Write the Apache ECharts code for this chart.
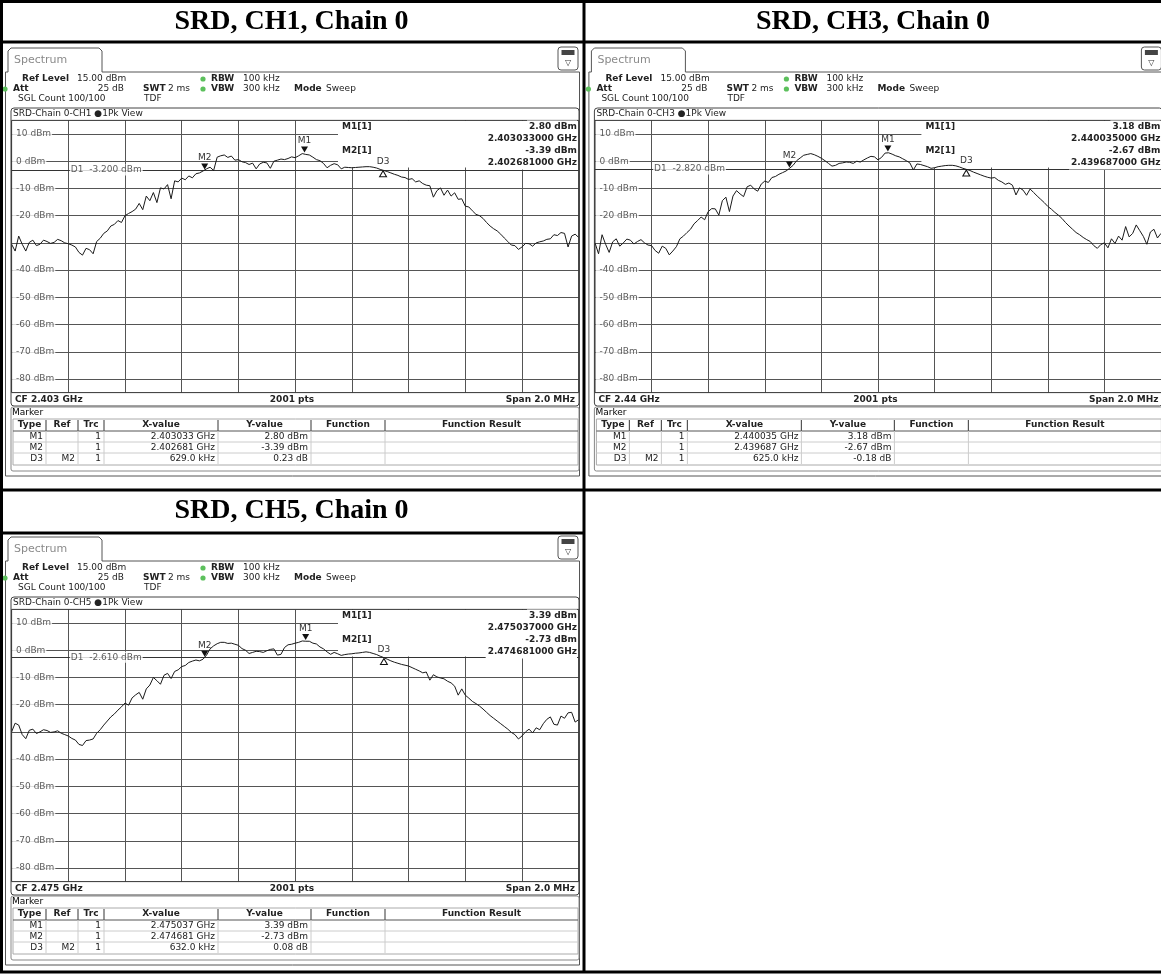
<!DOCTYPE html>
<html>
<head>
<meta charset="utf-8">
<title>SRD Chain 0 occupied bandwidth</title>
<script src="https://cdn.jsdelivr.net/npm/echarts@6/dist/echarts.min.js"></script>
<style>
  html, body { margin: 0; padding: 0; background: #fff; }
  #chart { width: 1161px; height: 976px; }
</style>
</head>
<body>
<div id="chart"></div>
<script>
// sweep positions, offset from centre frequency in kHz (span 2.0 MHz)
const OFFSET_KHZ = [
  -1000, -987.5, -975, -962.5, -950, -937.5, -925, -912.5,
  -900, -887.5, -875, -862.5, -850, -837.5, -825, -812.5,
  -800, -787.5, -775, -762.5, -750, -737.5, -725, -712.5,
  -700, -687.5, -675, -662.5, -650, -637.5, -625, -612.5,
  -600, -587.5, -575, -562.5, -550, -537.5, -525, -512.5,
  -500, -487.5, -475, -462.5, -450, -437.5, -425, -412.5,
  -400, -387.5, -375, -362.5, -350, -337.5, -325, -312.5,
  -300, -287.5, -275, -262.5, -250, -237.5, -225, -212.5,
  -200, -187.5, -175, -162.5, -150, -137.5, -125, -112.5,
  -100, -87.5, -75, -62.5, -50, -37.5, -25, -12.5,
  0, 12.5, 25, 37.5, 50, 62.5, 75, 87.5,
  100, 112.5, 125, 137.5, 150, 162.5, 175, 187.5,
  200, 212.5, 225, 237.5, 250, 262.5, 275, 287.5,
  300, 312.5, 325, 337.5, 350, 362.5, 375, 387.5,
  400, 412.5, 425, 437.5, 450, 462.5, 475, 487.5,
  500, 512.5, 525, 537.5, 550, 562.5, 575, 587.5,
  600, 612.5, 625, 637.5, 650, 662.5, 675, 687.5,
  700, 712.5, 725, 737.5, 750, 762.5, 775, 787.5,
  800, 812.5, 825, 837.5, 850, 862.5, 875, 887.5,
  900, 912.5, 925, 937.5, 950, 962.5, 975, 987.5,
  1000
];

// trace levels in dBm
const CH1_TRACE = [
  -30.5, -33, -27.5, -30.5, -33, -29.8, -29, -31,
  -30.5, -29, -29.5, -30.2, -29.8, -28.7, -29.2, -30,
  -30.3, -30.8, -31.5, -33.5, -34.5, -32, -32.5, -34,
  -29.5, -28.3, -26.5, -25.6, -23.8, -23.2, -21.8, -22.5,
  -20, -19.2, -18.5, -17.6, -15.5, -17.8, -12.8, -14.5,
  -11.5, -15.2, -9.8, -10.2, -8.6, -13.8, -7.2, -7.6,
  -6.2, -6.8, -5.4, -6.1, -4.6, -4.3, -3.6, -2.8,
  -2.2, -3.4, 1.5, 2.0, 2.3, 1.4, 1.9, 0.4,
  0.6, -0.2, -0.5, -1.2, -0.7, -2.8, -1.0, -0.4,
  -0.6, -2.6, 0, 0.4, 0.8, 0.6, 1.0, 1.6,
  1.3, 2.0, 2.8, 2.5, 2.3, 1.5, 0.6, 0.2,
  -0.8, -2.4, -1.5, -0.9, -1.3, -2.8, -2.2, -2.3,
  -2.4, -2.3, -2.2, -2.1, -2.0, -2.0, -2.2, -2.5,
  -3.0, -3.4, -3.8, -4.3, -4.8, -5.2, -5.8, -6.0,
  -6.7, -6.4, -7.6, -7.2, -8.2, -8.8, -9.0, -13.2,
  -10.8, -9.8, -12.5, -10.6, -12.8, -11.6, -14, -13.8,
  -16.5, -16.8, -18.2, -19.5, -20, -21, -22.5, -23.8,
  -24.8, -25.6, -26.8, -28.2, -29.5, -30.8, -31, -32.4,
  -31.5, -30.2, -30.3, -31.2, -30, -29.6, -29.3, -28.7,
  -28.5, -27, -27.3, -26.2, -26.5, -31.5, -27.5, -26.8,
  -28
];
const CH3_TRACE = [
  -30, -34, -27, -30.5, -33.5, -29.6, -28.5, -31.2,
  -30, -28.6, -29, -30.4, -29.5, -28.8, -30, -30.8,
  -31, -32.8, -33.8, -31.2, -32, -34.4, -33, -31.4,
  -28.5, -27.5, -26.2, -25, -23, -21.8, -20.5, -21.5,
  -18.5, -17.4, -17.5, -19.8, -14.5, -13.2, -18.5, -12.8,
  -10.8, -12, -13, -9.4, -8.8, -10.2, -11, -8.4,
  -7.3, -7.8, -6, -5.6, -4.8, -4.2, -3.6, -2.6,
  -1.5, 0.2, 1.2, 2.2, 2.5, 2.8, 2.4, 1.8,
  1.1, 0.2, -0.8, -1.8, -1.5, -0.8, -0.6, -0.3,
  -0.4, -0.8, 0, -0.3, 0.5, 1.2, 1.8, 1.6,
  0.5, 1.4, 3.0, 3.1, 2.6, 2.0, 1.6, 0.9,
  0.2, -0.6, -3.2, -1.0, -1.2, -1.6, -2, -2.6,
  -2.4, -2.0, -1.8, -1.6, -1.5, -1.5, -1.7, -2.1,
  -2.6, -3.0, -3.4, -4.0, -4.5, -5.0, -5.5, -5.9,
  -6.2, -6.0, -7, -7.6, -8.5, -8.0, -8.8, -12.4,
  -9.8, -10.6, -12.5, -10.2, -11.5, -12.8, -14, -15.2,
  -16.6, -17.6, -18.8, -19.8, -21, -22.5, -23.8, -25,
  -26.2, -27, -28, -28.8, -29.5, -31, -32, -30.6,
  -30, -31.8, -28.5, -30.2, -27.5, -29, -24, -27.8,
  -26.5, -23.4, -25.5, -27.6, -30.5, -26, -25, -28.2,
  -26.5
];
const CH5_TRACE = [
  -30, -26.8, -27.5, -31, -32.5, -29.4, -29, -30.6,
  -30, -29.2, -29.5, -30.2, -30, -29.6, -30.5, -31,
  -31.5, -32.4, -33, -34.6, -35, -33.2, -33, -32.6,
  -30.5, -29.2, -27.5, -26, -24.5, -23.4, -22, -20.8,
  -19.4, -20.2, -17.5, -16.4, -15.5, -18, -14.2, -12.8,
  -10, -11.2, -12.5, -9.2, -8.5, -10.4, -7.8, -7.2,
  -6, -5.6, -4.5, -4.0, -3.6, -3.9, -3.3, -1.8,
  0.5, 1.6, 2.4, 2.9, 2.9, 2.5, 2.6, 2.2,
  1.8, 0.6, 0, -1.2, -0.8, -0.4, -0.5, -0.8,
  -0.2, 0.3, 0.5, -1.8, -1.5, 1.0, 2.0, 2.2,
  2.6, 2.9, 3.4, 3.3, 3.3, 2.6, 2.3, 1.2,
  0.5, -0.6, -1.5, -0.8, -1.3, -1.9, -1.6, -1.4,
  -1.3, -1.1, -1.0, -0.8, -0.6, -0.8, -1.2, -1.6,
  -2.2, -2.7, -3.3, -3.9, -4.4, -4.8, -5.2, -5.5,
  -5.8, -6.4, -7, -7.6, -8.3, -8.0, -11, -9.0,
  -9.8, -10.2, -10.5, -11.4, -12, -13.2, -16.5, -14.2,
  -16.5, -17.6, -18.8, -19.6, -20.5, -21.6, -22.8, -24,
  -25, -26, -27, -28, -29, -30.2, -31, -32.6,
  -31.5, -30, -29, -30.4, -28.5, -29.2, -27, -25.4,
  -24.5, -27.2, -27.5, -24.2, -25, -23, -22.8, -26.4,
  -25.5
];

const GRID_DBM = [10, 0, -10, -20, -30, -40, -50, -60, -70, -80];
const GRID_LABEL_DBM = [10, 0, -10, -20, -40, -50, -60, -70, -80];
const GRID_KHZ = [-800, -600, -400, -200, 0, 200, 400, 600, 800];

const TITLES = ['SRD, CH1, Chain 0', 'SRD, CH3, Chain 0', 'SRD, CH5, Chain 0'];
const TRACE_NAMES = ['SRD-Chain 0-CH1', 'SRD-Chain 0-CH3', 'SRD-Chain 0-CH5'];
const CF_GHZ = [2.403, 2.44, 2.475];
const CF_LABELS = ['CF 2.403 GHz', 'CF 2.44 GHz', 'CF 2.475 GHz'];
const D1_DBM = [-3.2, -2.82, -2.61];
const M1_GHZ = [2.403033, 2.440035, 2.475037];
const M1_DBM = [2.80, 3.18, 3.39];
const M2_GHZ = [2.402681, 2.439687, 2.474681];
const M2_DBM = [-3.39, -2.67, -2.73];
const D3_KHZ = [629.0, 625.0, 632.0];
const D3_DB = [0.23, -0.18, 0.08];
const TRACES = [CH1_TRACE, CH3_TRACE, CH5_TRACE];

// panel origins on the page (CH1, CH3, CH5)
const ORIGINS = [[0, 0], [583.4, 0], [0, 489]];

const FF = '"DejaVu Sans", Verdana, sans-serif';
const N9 = '9px ' + FF;
const B9 = 'bold 9px ' + FF;

function txt(x, y, text, style, z) {
  return {
    type: 'text', x: x, y: y, z: z || 10, silent: true,
    style: Object.assign({ text: text, fill: '#222', font: N9, textAlign: 'left', textVerticalAlign: 'middle' }, style || {})
  };
}
function line(x1, y1, x2, y2, color, w, z) {
  return { type: 'line', z: z || 9, silent: true, shape: { x1: x1, y1: y1, x2: x2, y2: y2 }, style: { stroke: color, lineWidth: w || 1 } };
}
function box(x, y, w, h, style, z, r) {
  return { type: 'rect', z: z || 9, silent: true, shape: { x: x, y: y, width: w, height: h, r: r || 0 }, style: style };
}
function dot(x, y) {
  return { type: 'circle', z: 10, silent: true, shape: { cx: x, cy: y, r: 2.6 }, style: { fill: '#5cc05c' } };
}

const graphics = [];
const grids = [], xAxes = [], yAxes = [], series = [];

ORIGINS.forEach(function (o, k) {
  const ox = o[0], oy = o[1];
  const g = function (el) {
    if (el.shape && el.type === 'line') {
      el.shape.x1 += ox; el.shape.x2 += ox; el.shape.y1 += oy; el.shape.y2 += oy;
    } else if (el.shape && el.type === 'rect') {
      el.shape.x += ox; el.shape.y += oy;
    } else if (el.shape && el.type === 'circle') {
      el.shape.cx += ox; el.shape.cy += oy;
    } else if (el.shape && el.shape.points) {
      el.shape.points = el.shape.points.map(function (p) { return [p[0] + ox, p[1] + oy]; });
    } else {
      el.x += ox; el.y += oy;
    }
    graphics.push(el);
  };

  // panel frame and "Spectrum" tab
  g({ type: 'polyline', z: 9, silent: true, shape: { points: [[102, 72], [579.5, 72], [579.5, 476], [5.5, 476], [5.5, 72], [8, 72]] }, style: { stroke: '#555', lineWidth: 1, fill: null } });
  g({ type: 'polyline', z: 9, silent: true, shape: { points: [[8, 72], [8, 51], [11, 48], [99, 48], [102, 51], [102, 72]] }, style: { stroke: '#555', lineWidth: 1, fill: null } });
  g(txt(14, 60, 'Spectrum', { fill: '#8a8a8a', font: '11px ' + FF }));
  g(box(558, 47, 20, 23, { stroke: '#555', fill: '#fff', lineWidth: 1 }, 9, 3));
  g(box(561.5, 50, 13, 5, { fill: '#444' }, 10));
  g(txt(568, 63, '\u25BD', { font: '8px ' + FF, textAlign: 'center', fill: '#333' }));

  // instrument settings
  g(txt(22, 79, 'Ref Level', { font: B9 }));
  g(txt(77, 79, '15.00 dBm'));
  g(dot(203, 79));
  g(txt(211, 79, 'RBW', { font: B9 }));
  g(txt(243, 79, '100 kHz'));
  g(dot(5, 89));
  g(txt(13, 89, 'Att', { font: B9 }));
  g(txt(124, 89, '25 dB', { textAlign: 'right' }));
  g(txt(143, 89, 'SWT', { font: B9 }));
  g(txt(168, 89, '2 ms'));
  g(dot(203, 89));
  g(txt(211, 89, 'VBW', { font: B9 }));
  g(txt(243, 89, '300 kHz'));
  g(txt(294, 89, 'Mode', { font: B9 }));
  g(txt(326, 89, 'Sweep'));
  g(txt(18, 99, 'SGL Count 100/100'));
  g(txt(144, 99, 'TDF'));

  // diagram frame, header and footer
  g(box(11, 108, 568, 298, { stroke: '#444', fill: null, lineWidth: 1 }, 9, 3));
  g(txt(13, 114, TRACE_NAMES[k] + ' \u25CF1Pk View'));
  g(box(11.6, 120.4, 567.1, 272.2, { stroke: '#333', fill: null, lineWidth: 1 }, 9));
  g(txt(15, 400, CF_LABELS[k], { font: B9 }));
  g(txt(292, 400, '2001 pts', { font: B9, textAlign: 'center' }));
  g(txt(575, 400, 'Span 2.0 MHz', { font: B9, textAlign: 'right' }));

  // marker readout in the top right of the diagram
  g(box(338, 121, 240.5, 46.5, { fill: '#fff' }, 2));
  const vbg = { font: B9, textAlign: 'right', backgroundColor: '#fff', padding: [1, 0, 3, 2] };
  g(txt(342, 127, 'M1[1]', { font: B9 }));
  g(txt(577, 127, M1_DBM[k].toFixed(2) + ' dBm', vbg));
  g(txt(577, 139, M1_GHZ[k].toFixed(9) + ' GHz', vbg));
  g(txt(342, 151, 'M2[1]', { font: B9 }));
  g(txt(577, 151, M2_DBM[k].toFixed(2) + ' dBm', vbg));
  g(txt(577, 163, M2_GHZ[k].toFixed(9) + ' GHz', vbg));

  // marker table
  g(box(11, 407, 568, 64, { stroke: '#888', fill: null, lineWidth: 1 }, 9, 2));
  g(txt(12, 413, 'Marker', { fill: '#000' }));
  const cols = [13, 46, 78, 104, 218, 311, 385, 578];
  const heads = ['Type', 'Ref', 'Trc', 'X-value', 'Y-value', 'Function', 'Function Result'];
  const rows = [
    ['M1', '', '1', M1_GHZ[k].toFixed(6) + ' GHz', M1_DBM[k].toFixed(2) + ' dBm', '', ''],
    ['M2', '', '1', M2_GHZ[k].toFixed(6) + ' GHz', M2_DBM[k].toFixed(2) + ' dBm', '', ''],
    ['D3', 'M2', '1', D3_KHZ[k].toFixed(1) + ' kHz', D3_DB[k].toFixed(2) + ' dB', '', '']
  ];
  const rowTop = [431, 442, 453];
  g(box(13, 419, 565, 46, { stroke: '#aaa', fill: null, lineWidth: 1 }, 9));
  g(line(13, 431, 578, 431, '#555', 1));
  rowTop.slice(1).forEach(function (y) { g(line(13, y, 578, y, '#ccc', 1)); });
  cols.slice(1, -1).forEach(function (x) {
    g(line(x, 420, x, 431, '#555', 1.2));
    g(line(x, 431, x, 464, '#ccc', 1));
  });
  heads.forEach(function (h, i) {
    g(txt((cols[i] + cols[i + 1]) / 2, 425, h, { font: B9, textAlign: 'center' }));
  });
  rows.forEach(function (r, j) {
    r.forEach(function (c, i) {
      if (c) g(txt(cols[i + 1] - 3, rowTop[j] + 6, c, { textAlign: 'right' }));
    });
  });

  // plot
  grids.push({ left: ox + 11.6, top: oy + 120.4, width: 567.1, height: 272.2, show: false });
  xAxes.push({ type: 'value', gridIndex: k, min: -1000, max: 1000, show: false });
  yAxes.push({ type: 'value', gridIndex: k, min: -85, max: 15, show: false });

  const base = { xAxisIndex: k, yAxisIndex: k, animation: false, silent: true };
  series.push(Object.assign({
    type: 'line', z: 1, data: [[-1000, -85]], showSymbol: false, lineStyle: { width: 0 },
    markLine: {
      z: 1, silent: true, symbol: 'none', animation: false, label: { show: false },
      lineStyle: { color: '#555', width: 1, type: 'solid' },
      data: GRID_DBM.map(function (v) { return { yAxis: v }; })
        .concat(GRID_KHZ.map(function (v) { return { xAxis: v }; }))
    }
  }, base));
  series.push(Object.assign({
    type: 'scatter', z: 3, symbolSize: 1, itemStyle: { color: 'rgba(0,0,0,0)' },
    data: GRID_LABEL_DBM.map(function (v) { return [-1000, v]; }),
    label: {
      show: true, position: 'right', distance: 0, color: '#333', fontFamily: FF, fontSize: 9,
      backgroundColor: '#fff', padding: [1, 1, 1, 4],
      formatter: function (p) { return p.value[1] + ' dBm'; }
    }
  }, base));
  series.push(Object.assign({
    type: 'line', z: 4, data: [[-1000, -85]], showSymbol: false, lineStyle: { width: 0 },
    markLine: {
      z: 4, silent: true, symbol: 'none', animation: false, label: { show: false },
      lineStyle: { color: '#333', width: 1, type: 'solid' },
      data: [{ yAxis: D1_DBM[k] }]
    }
  }, base));
  series.push(Object.assign({
    type: 'scatter', z: 6, symbolSize: 1, itemStyle: { color: 'rgba(0,0,0,0)' },
    data: [[-800, D1_DBM[k]]],
    label: {
      show: true, position: 'right', distance: 1, color: '#333', fontFamily: FF, fontSize: 9,
      backgroundColor: '#fff', padding: [1, 1, 1, 1],
      formatter: 'D1  ' + D1_DBM[k].toFixed(3) + ' dBm'
    }
  }, base));

  const m1x = (M1_GHZ[k] - CF_GHZ[k]) * 1e6;
  const m2x = (M2_GHZ[k] - CF_GHZ[k]) * 1e6;
  const d3x = m2x + D3_KHZ[k];
  const d3y = M2_DBM[k] + D3_DB[k];
  const mLabel = { show: true, position: 'top', distance: 1, color: '#333', fontFamily: FF, fontSize: 9 };
  series.push(Object.assign({
    type: 'line', z: 5, showSymbol: false,
    data: OFFSET_KHZ.map(function (f, i) { return [f, TRACES[k][i]]; }),
    lineStyle: { color: '#1a1a1a', width: 1 },
    markPoint: {
      z: 7, silent: true, animation: false,
      symbol: 'triangle', symbolSize: [7, 6], symbolRotate: 180, symbolOffset: [0, -4],
      itemStyle: { color: '#111' },
      label: mLabel,
      data: [
        { name: 'M1', coord: [m1x, M1_DBM[k]], label: { formatter: 'M1' } },
        { name: 'M2', coord: [m2x, M2_DBM[k]], label: { formatter: 'M2' } },
        {
          name: 'D3', coord: [d3x, d3y], symbolRotate: 0, symbolOffset: [0, 4],
          itemStyle: { color: '#fff', borderColor: '#111', borderWidth: 1 },
          label: { formatter: 'D3', distance: 4 }
        }
      ]
    }
  }, base));
});

// titles
const titlePos = [[291.5, 22], [873, 22], [291.5, 511]];
TITLES.forEach(function (t, i) {
  graphics.push(txt(titlePos[i][0], titlePos[i][1], t, {
    font: 'bold 28px "Liberation Serif", "Times New Roman", serif', fill: '#000', textAlign: 'center'
  }, 20));
});

// document table rules
[
  [0, 1.5, 1161, 1.5], [0, 42, 1161, 42], [0, 490, 1161, 490], [0, 533, 584, 533], [0, 972, 1161, 972],
  [1.5, 0, 1.5, 973], [584, 0, 584, 973]
].forEach(function (l) { graphics.push(line(l[0], l[1], l[2], l[3], '#000', 3, 20)); });

const chart = echarts.init(document.getElementById('chart'));
chart.setOption({
  animation: false,
  backgroundColor: '#fff',
  grid: grids,
  xAxis: xAxes,
  yAxis: yAxes,
  series: series,
  graphic: { elements: graphics }
});
</script>
</body>
</html>
